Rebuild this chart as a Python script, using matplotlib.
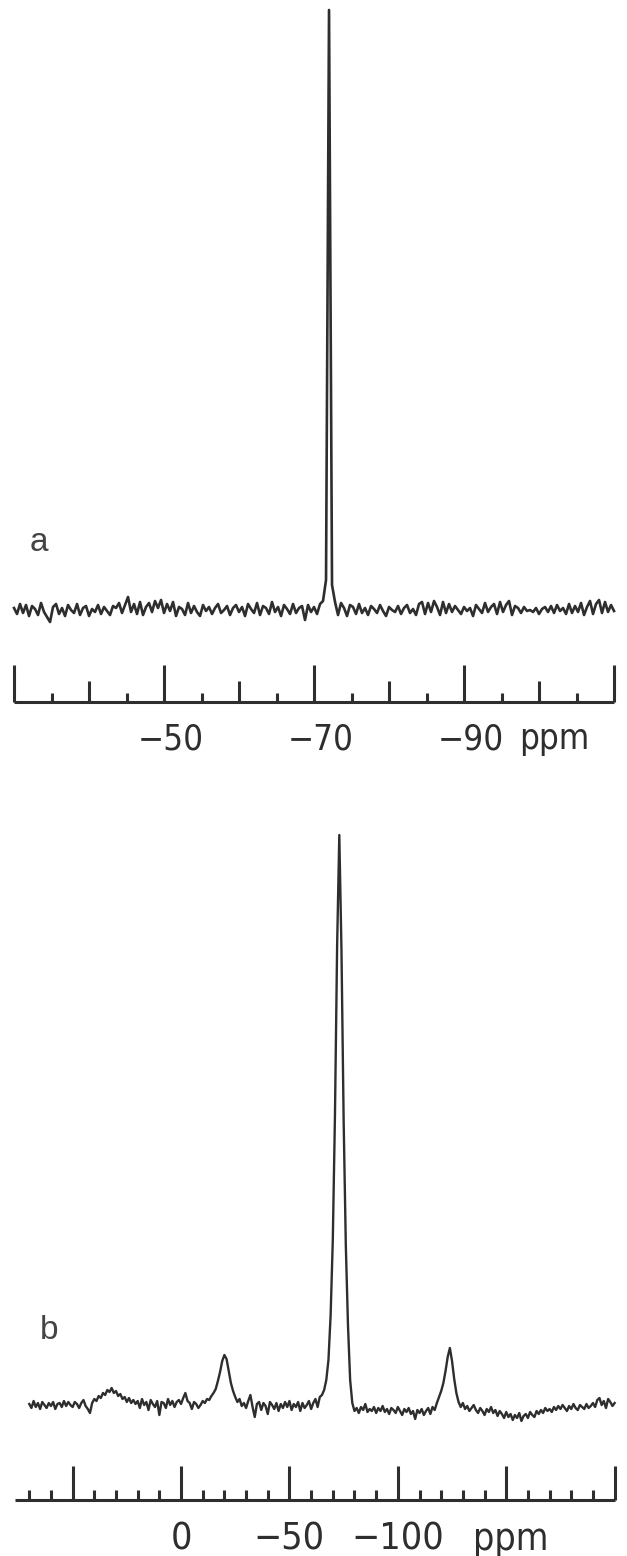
import numpy as np
import matplotlib
matplotlib.use('Agg')
import matplotlib.pyplot as plt
from matplotlib import font_manager

# spectrum a: 19F-like trace, -30 .. -110 ppm every 0.4 ppm
ppm_a = np.arange(-30.0, -110.01, -0.4)
int_a = [2, -4, 6, -3, 5, -6, 4, 1, -5, 7, -2, -7, -12, 3, 6, -4, 2, -6, 5, 0,
         -3, 6, -5, 2, 4, -6, 1, -2, 5, -4, 3, -1, -5, 4, 2, 7, -3, 5, 13, -2,
         6, -4, 8, -5, 3, 7, -2, 9, 2, 10, -3, 6, -1, 8, -6, 3, 1, -5, 7, -3,
         4, -2, -6, 5, -1, 3, -4, 2, 6, -3, 0, 4, -5, 2, 5, -2, 3, -6, 6, 1,
         -3, 7, -5, 4, 2, -4, 8, -2, 3, -6, 5, 1, -4, 6, -3, 2, 4, -10, 5, -2,
         3, -4, 6, 9, 30, 600, 25, 8, -5, 7, 2, -6, 5, 3, -4, 6, -3, 2, -5, 4,
         1, -3, 5, -1, -6, 3, 0, -2, 4, -4, 2, 5, -3, 1, -5, 6, 8, -4, 7, -2,
         9, 3, -5, 8, -3, 6, -2, 4, 0, -4, 3, -1, 2, -6, 5, 1, -3, 7, -2, 3,
         6, -4, 8, -2, 5, 9, -5, 4, 2, -3, 3, -1, 0, -2, 2, -4, 1, 3, -2, 4,
         -3, 5, -1, 2, -4, 6, -3, 4, -2, 7, -5, 3, 9, -4, 6, 10, -3, 8, -2, 5,
         -1]

# spectrum b: +70 .. -200 ppm every 1 ppm
ppm_b = np.arange(70, -200.5, -1.0)
int_b = [1, -3, 4, -2, 2, -4, 3, 0, -3, 2, -1, 3, -4, 1, 2, -2, 4, -1, 3, 0,
         -2, 3, 1, -3, 2, 5, -1, -4, -8, 2, 6, 4, 9, 7, 12, 10, 15, 13, 17, 12,
         14, 9, 11, 6, 8, 3, 7, 2, 5, 1, 4, -3, 6, 0, 3, -5, 5, 1, -2, 4,
         -10, 3, 2, -3, 6, 0, 4, -2, 3, 5, 1, 7, 12, 4, 2, -4, 3, 1, -3, 0,
         4, 2, 6, 5, 9, 12, 16, 24, 33, 44, 50, 46, 34, 22, 14, 8, 3, 6, -1, 2,
         -3, 4, 10, -2, -12, 1, 3, -5, 2, -1, -9, 3, 0, -4, 2, -6, 1, -3, 3, -2,
         4, -5, 1, -2, 3, -6, 2, -3, 0, 4, -4, 2, 6, -2, 8, 10, 15, 25, 45, 90,
         165, 290, 460, 570, 455, 285, 160, 80, 25, 2, -6, -3, -8, -2, -5, 1, -7, -4, -6, -2,
         -8, -3, -6, -1, -7, -4, -9, -3, -5, -8, -2, -6, -10, -4, -7, -3, -9, -6, -14, -5,
         -8, -4, -10, -6, -3, -9, -2, -5, 2, 8, 14, 22, 34, 48, 57, 44, 26, 12, 3, -2,
         2, -4, -1, -6, -3, 0, -5, -8, -3, -6, -10, -4, -7, -2, -8, -5, -11, -6, -9, -13,
         -7, -12, -9, -15, -10, -13, -8, -16, -11, -9, -13, -7, -10, -12, -6, -9, -5, -8, -3, -6,
         -4, -7, -2, -5, -1, -4, 0, -3, -6, -1, -4, 1, -3, -5, 0, -2, -4, 1, -3, -1,
         2, -2, 5, 7, 0, 4, -3, 6, 3, -1, 2]

# scale bar a
tall_a = [-30, -50, -70, -90, -110]
mid_a = [-40, -60, -80, -100]
small_a = [-35, -45, -55, -65, -75, -85, -95, -105]
lab_a = ['\u221250', '\u221270', '\u221290']
labpos_a = [-50, -70, -90]
unitpos_a = -102

# scale bar b
tall_b = [50, 0, -50, -100, -150, -200]
small_b = [70, 60, 40, 30, 20, 10, -10, -20, -30, -40, -60, -70, -80, -90,
           -110, -120, -130, -140, -160, -170, -180, -190]
lab_b = ['0', '\u221250', '\u2212100']
labpos_b = [0, -50, -100]
unitpos_b = -152

names = {f.name for f in font_manager.fontManager.ttflist}
if 'Liberation Sans Narrow' in names:
    num_font = dict(family='Liberation Sans Narrow')
else:
    num_font = dict(family='DejaVu Sans', stretch='condensed')

INK = '#2e2e2e'
W, H = 627, 1556
fig = plt.figure(figsize=(W / 100, H / 100), dpi=100)


def px_axes(top, bottom):
    ax = fig.add_axes([0, 1 - bottom / H, 1, (bottom - top) / H])
    ax.axis('off')
    return ax


# panel a
ax = px_axes(0, 650)
ax.plot(ppm_a, int_a, color=INK, lw=1.9)
ax.set_xlim(-28.13, -111.73)
ax.set_ylim(-40, 610)
ax.text(30 / W, 0.152, 'a', transform=ax.transAxes, fontsize=24,
        family='Liberation Sans', color='#444444')

sc = px_axes(662, 702)
sc.set_xlim(-28.13, -111.73)
sc.set_ylim(0, 40)
sc.hlines(0, -30, -110, color=INK, lw=2.2, clip_on=False)
sc.vlines(tall_a, 0, 37, color=INK, lw=2.2, clip_on=False)
sc.vlines(mid_a, 0, 21, color=INK, lw=2.2, clip_on=False)
sc.vlines(small_a, 0, 9, color=INK, lw=2.2, clip_on=False)
for p, t in zip(labpos_a, lab_a):
    sc.text(p - 0.9, -47, t, ha='center', va='baseline', fontsize=25,
            color=INK, **num_font)
sc.text(unitpos_a, -47, 'ppm', ha='center', va='baseline', fontsize=25,
        color=INK, **num_font)

# panel b
ax = px_axes(780, 1450)
ax.plot(ppm_b, int_b, color=INK, lw=1.7)
ax.set_xlim(83.5, -205.7)
ax.set_ylim(-45, 625)
ax.text(40 / W, 0.166, 'b', transform=ax.transAxes, fontsize=24,
        family='Liberation Sans', color='#444444')

sc = px_axes(1460, 1500)
sc.set_xlim(83.5, -205.7)
sc.set_ylim(0, 40)
sc.hlines(0, 76.6, -200, color=INK, lw=2.2, clip_on=False)
sc.vlines(tall_b, 0, 34, color=INK, lw=2.2, clip_on=False)
sc.vlines(small_b, 0, 10, color=INK, lw=2.2, clip_on=False)
for p, t in zip(labpos_b, lab_b):
    sc.text(p, -50, t, ha='center', va='baseline', fontsize=27,
            color=INK, **num_font)
sc.text(unitpos_b, -50, 'ppm', ha='center', va='baseline', fontsize=27,
        color=INK, **num_font)

fig.savefig('out.png', dpi=100, facecolor='white')
